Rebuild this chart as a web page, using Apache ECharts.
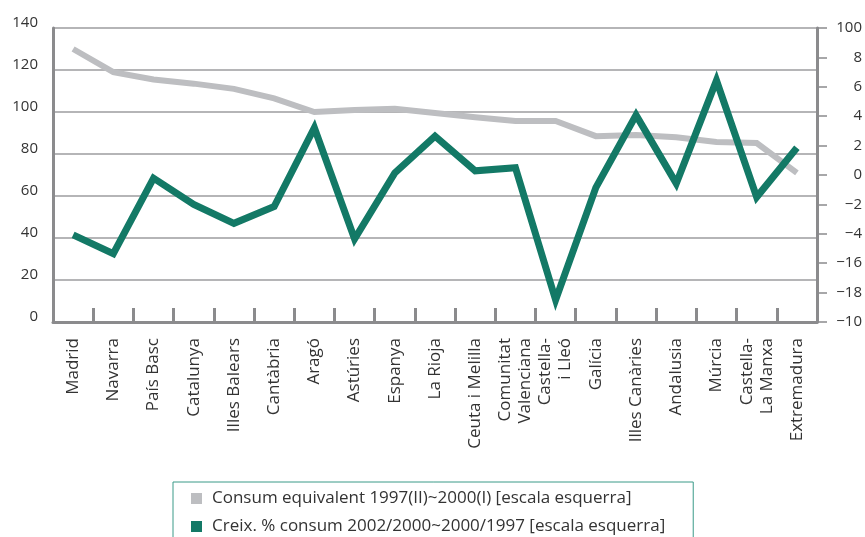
<!DOCTYPE html>
<html>
<head>
<meta charset="utf-8">
<script src="https://cdn.jsdelivr.net/npm/echarts@6/dist/echarts.min.js"></script>
<style>
html,body{margin:0;padding:0;background:#fff;}
#chart{width:865px;height:537px;}
</style>
</head>
<body>
<div id="chart"></div>
<script>
const categories = ['Madrid','Navarra','País Basc','Catalunya','Illes Balears','Cantàbria','Aragó','Astúries','Espanya','La Rioja','Ceuta i Melilla','Comunitat\nValenciana','Castella-\ni Lleó','Galícia','Illes Canàries','Andalusia','Múrcia','Castella-\nLa Manxa','Extremadura'];
const consumValues = [130,119,115.5,113.5,111,106.5,100,101,101.5,99.5,97.5,95.7,95.7,88.5,89,88,85.7,85.2,71];
const creixValues = [41.5,32.5,68.5,56,47,55,92.5,39.5,71,88.5,72,73.5,10.5,64,98.5,66,115,59.5,83];
const leftTicks = [0,20,40,60,80,100,120,140];
const rightTickLabels = ['\u221210','\u221218','\u221216','\u22124','\u22122','0','2','4','6','8','100'];
const seriesNames = ['Consum equivalent 1997(II)~2000(I) [escala esquerra]','Creix. % consum 2002/2000~2000/1997 [escala esquerra]'];

const FONT = 'Open Sans';
const AXIS = '#8b8b8d';
const chart = echarts.init(document.getElementById('chart'), null, {renderer:'canvas'});
chart.setOption({
  animation:false,
  backgroundColor:'#ffffff',
  color:['#bdbec1','#137966'],
  grid:{left:53,right:48,top:28,bottom:215,containLabel:false},
  legend:{
    orient:'vertical',left:173,top:482,height:120,
    icon:'rect',itemWidth:11,itemHeight:11,itemGap:11,
    borderColor:'#3a9a88',borderWidth:1,padding:[8,28,20,18],
    textStyle:{fontFamily:FONT,fontSize:17,color:'#333',padding:[0,0,0,5]},
    data:seriesNames
  },
  xAxis:{
    type:'category',data:categories,boundaryGap:true,
    axisLine:{show:true,lineStyle:{color:AXIS,width:3}},
    axisTick:{show:true,inside:true,length:14,interval:0,lineStyle:{color:AXIS,width:3}},
    axisLabel:{interval:0,rotate:90,margin:16,fontFamily:FONT,fontSize:17,color:'#333',lineHeight:20},
    splitLine:{show:false}
  },
  yAxis:[{
    type:'value',min:leftTicks[0],max:leftTicks[leftTicks.length-1],interval:20,position:'left',
    axisLine:{show:true,lineStyle:{color:AXIS,width:3}},
    axisTick:{show:false},
    axisLabel:{margin:15,fontFamily:FONT,fontSize:15,color:'#333',verticalAlign:'bottom',lineHeight:10},
    splitLine:{show:true,lineStyle:{color:'#9d9d9f',width:1.5}}
  },{
    type:'value',min:0,max:10,interval:1,position:'right',
    axisLine:{show:true,lineStyle:{color:AXIS,width:3}},
    axisTick:{show:true,inside:false,length:10,lineStyle:{color:AXIS,width:1.5}},
    axisLabel:{margin:45,align:'right',fontFamily:FONT,fontSize:15,color:'#333',
      formatter:function(v){return rightTickLabels[Math.round(v)];}},
    splitLine:{show:false}
  }],
  series:[{
    name:seriesNames[0],type:'line',yAxisIndex:0,data:consumValues,
    symbol:'none',lineStyle:{width:6,color:'#bdbec1',join:'miter'},z:2
  },{
    name:seriesNames[1],type:'line',yAxisIndex:0,data:creixValues,
    symbol:'none',lineStyle:{width:7,color:'#137966',join:'miter',miterLimit:10},z:3
  }]
});
</script>
</body>
</html>
